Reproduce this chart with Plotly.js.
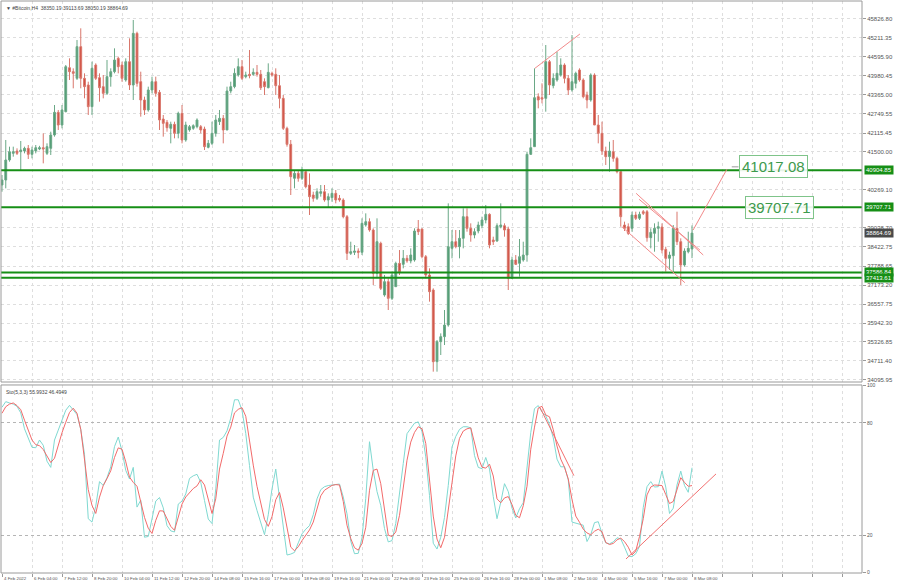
<!DOCTYPE html>
<html><head><meta charset="utf-8">
<script src="https://cdn.plot.ly/plotly-3.0.1.min.js"></script>
<style>html,body{margin:0;padding:0;background:#fff}#chart{width:900px;height:585px}</style>
</head><body><div id="chart"></div>
<script>
// ---- data (H4 bars) ----
const openP = [
40427,40590,41240,41456,41532,41510,41532,41619,41424,41532,
41597,41640,41456,41619,42052,42789,42377,42810,44240,44110,
43894,44923,43894,43677,42973,44327,43915,43623,43406,43948,
44110,44544,44327,43840,44435,43677,45356,43785,43190,42865,
43515,43785,43439,42572,42464,42269,42399,42106,42756,41890,
42215,42269,42323,42323,42247,41651,41781,42106,42485,42594,
42215,43482,43623,44002,44273,43948,44024,44024,44089,44024,
43785,43590,44056,44024,43655,43244,42269,41749,40644,40806,
40644,40860,40427,40102,39994,40156,40210,39940,40015,40156,
39994,39940,39398,38206,38239,38282,38239,39127,39236,38964,
37556,38531,36852,37286,36744,37123,37881,37849,38044,37960,
37990,38997,38997,38098,37502,37015,34685,35336,35498,35877,
38369,38585,38423,38694,39398,39019,38802,38932,39105,39290,
39474,38640,38607,39073,39105,38997,37394,37990,37881,37990,
38152,41424,41673,43298,43265,43244,44435,43655,43840,44002,
44327,43894,43515,43731,44165,43840,43352,43190,44002,42377,
42106,41532,41348,41510,41294,40860,39127,39073,39019,39452,
39344,39560,39560,38715,38856,39019,39062,38336,38044,38130,
39019,38585,37827,38260,38350.19];
const highP = [
40752,41890,41673,41673,41619,41857,41673,41727,41673,41727,
41700,42106,41781,42160,43027,42865,43027,44327,44544,44219,
45139,45519,44056,43785,44435,44381,44056,44002,44490,44219,
44869,44598,44435,44544,45194,45790,45410,44110,43298,43623,
43948,43948,43515,42702,42540,42485,42485,42810,43027,42485,
42377,42400,42594,42377,42323,41890,42485,42702,42865,42702,
43623,43785,44219,44544,44490,44110,44815,44219,44327,44165,
43894,44381,44110,44219,44002,43352,42323,41890,40915,40915,
41023,40915,40806,40210,40319,40427,40427,40156,40319,40265,
40102,39994,39452,38585,38477,38369,39344,39506,39344,39019,
39344,38585,37502,37394,37611,37936,38314,38314,38150,38369,
39019,39290,39019,38152,37719,37069,35390,35606,36365,39831,
38964,38964,38964,39669,39669,39181,39019,39236,39398,39777,
39506,38748,39181,39831,39181,39073,38098,38152,38672,38585,
41510,41944,44219,43406,43731,44977,44490,44056,44760,44544,
44381,44002,45302,44110,44219,43894,43460,44056,44056,42702,
42485,41673,41835,41890,41348,40915,39236,39181,39560,39560,
39560,39615,39615,39019,39181,39236,39181,38423,38260,39127,
39560,38694,38369,38910,39113.69];
const lowP = [
40210,40319,41185,41348,41402,40915,41456,41272,41294,41456,
41560,41131,41402,41402,41998,42215,42269,42790,43840,43569,
43840,43569,43244,42702,42702,43840,43135,43244,43352,43623,
44056,44056,43785,43785,43515,43190,43623,42648,42702,42810,
43406,43298,42215,41998,42160,41781,41944,41944,41781,41835,
42160,42220,42269,42106,41565,41619,41727,41998,42377,41781,
42215,43406,43569,43948,43840,43894,43894,43980,43948,43515,
43352,43569,43948,43352,42919,42215,41673,40102,40319,40535,
40590,40319,39452,39885,39940,40048,39885,39690,39885,39831,
39885,39344,37990,38152,38152,38044,38152,39073,38910,37177,
37394,37015,36798,36365,36690,37123,37502,37719,37900,37881,
37936,38802,38044,37394,36636,34361,34361,34902,35227,35823,
38044,38369,38044,38369,38910,38585,38694,38856,39019,39181,
38369,38477,38585,39019,38748,37015,37394,37827,37448,37936,
37936,41402,41673,42919,43081,42810,43352,43569,43785,43948,
43731,43352,43460,43569,43785,43244,42919,43135,42377,41781,
41402,41077,40860,41185,40806,39073,38932,38802,38910,39290,
39290,39452,38585,38369,38260,38585,38206,37611,37665,37611,
38477,37177,37773,38206,38050.19];
const closeP = [
40590,41240,41510,41510,41456,41565,41619,41424,41565,41640,
41640,41597,41673,42052,42789,42377,42865,44273,44110,44056,
44923,43894,43623,42973,44219,43894,43590,43406,43948,44110,
44490,44273,43894,44435,43677,45356,43731,43190,42865,43515,
43785,43406,42540,42431,42290,42399,42106,42756,41890,42377,
42323,42355,42540,42215,41673,41781,42106,42540,42594,42215,
43482,43623,44056,44273,43894,44002,43980,44089,44024,43590,
43623,44089,44002,43655,43244,42269,41749,40698,40806,40644,
40915,40373,40048,39994,40210,40210,39940,40048,40156,39940,
39940,39398,38206,38260,38282,38239,39181,39236,38964,37556,
38585,37069,37286,36744,37502,37881,37611,38044,37960,38152,
38932,38910,38098,37502,36960,34685,35336,35498,35877,38423,
38585,38423,38694,39398,39019,38802,38910,39127,39290,39474,
38477,38585,39105,39127,38964,37394,37990,37849,38098,38152,
41424,41640,43265,43190,43222,44435,43677,43894,44056,44327,
43894,43515,43785,44056,43840,43298,43190,44002,42377,42106,
41532,41348,41532,41294,40860,39398,39019,38856,39452,39344,
39474,39506,38715,38889,39019,39073,38314,38044,38152,39019,
38585,37827,38282,38369,38864.69];
const stochK = [
88.3,91.3,90.6,90.0,88.8,85.3,76.8,71.9,66.9,66.7,
70.8,68.0,59.5,56.2,70.8,76.1,81.8,86.7,89.3,87.0,
84.4,76.5,63.2,28.8,27.0,35.5,48.6,46.5,50.7,56.5,
67.3,72.4,65.0,54.6,50.0,56.2,35.0,38.7,18.9,19.3,
27.9,38.2,40.1,34.6,25.1,22.3,21.7,36.6,38.2,42.0,
50.3,51.7,52.5,48.2,38.5,28.6,26.2,44.7,70.8,72.2,
75.7,82.5,92.3,92.3,86.7,74.3,57.2,40.3,33.2,26.2,
20.3,30.9,44.7,55.3,39.6,22.1,9.4,9.9,10.8,15.9,
20.7,23.2,25.1,30.9,39.4,44.3,45.9,46.5,46.8,47.2,
47.3,40.4,31.4,16.8,10.1,10.3,18.6,39.6,69.9,54.7,
43.3,35.9,23.5,16.4,17.1,26.3,41.2,58.3,74.2,77.0,
79.8,80.5,75.2,61.8,41.2,15.7,12.6,18.9,29.5,46.5,
67.1,72.7,76.5,77.9,77.9,77.3,62.5,56.2,55.5,61.5,
55.3,40.6,28.8,37.6,47.5,43.3,34.4,29.2,34.1,37.3,
56.2,74.7,87.6,89.2,85.8,83.7,79.1,72.0,60.6,56.5,
56.5,49.6,27.0,26.5,26.0,25.3,16.6,20.3,26.7,27.2,
20.9,15.9,15.4,16.4,18.6,18.0,13.6,8.9,8.5,10.1,
14.0,34.8,45.9,48.6,45.7,45.9,54.2,45.7,31.6,34.4,
46.8,54.2,46.5,42.9,55.9932];
const stochD = [
85.1,88.6,90.0,90.6,89.2,87.0,81.4,75.6,70.8,68.3,
67.8,65.7,62.0,58.8,61.1,68.2,74.7,80.3,85.5,87.8,
85.1,76.5,61.3,44.3,35.9,31.6,40.3,46.5,50.2,54.4,
61.5,66.6,65.9,59.2,51.0,48.2,46.1,37.6,29.5,23.7,
20.9,27.9,33.0,32.9,29.0,24.7,22.6,30.4,36.6,40.4,
42.6,44.9,46.3,49.6,46.8,39.2,31.6,39.4,55.3,63.7,
72.9,77.7,85.3,87.2,88.1,83.5,69.4,57.4,46.1,37.3,
28.4,24.7,29.9,38.9,42.8,34.6,23.5,13.6,11.7,13.8,
17.1,20.0,22.8,27.0,33.6,41.0,44.0,45.4,46.6,47.0,
46.8,38.0,25.3,18.2,13.3,12.0,15.6,24.2,44.0,54.6,
55.3,47.5,32.7,20.0,19.3,21.7,30.6,44.7,60.0,69.7,
74.9,77.9,76.8,69.0,50.0,30.2,17.9,13.3,18.9,32.3,
48.0,62.3,71.7,75.6,76.8,77.3,69.6,61.3,56.3,55.8,
57.9,51.6,39.4,37.3,39.9,40.6,36.4,30.6,29.3,35.7,
46.1,65.9,77.7,87.9,88.8,84.2,83.2,76.3,67.6,60.6,
56.3,50.0,39.0,30.2,26.9,23.2,21.2,20.2,22.1,23.2,
21.8,16.1,15.0,15.6,17.5,18.4,16.6,13.6,9.4,11.5,
19.3,28.8,41.5,45.7,46.8,46.5,46.5,41.7,36.9,38.0,
44.3,50.7,48.2,46.1,46.4949];
const timeLabels = ["4 Feb 2022","6 Feb 04:00","7 Feb 12:00","8 Feb 20:00","10 Feb 04:00","11 Feb 12:00",
"12 Feb 20:00","14 Feb 08:00","15 Feb 16:00","17 Feb 00:00","18 Feb 08:00","19 Feb 16:00","21 Feb 00:00",
"22 Feb 08:00","23 Feb 16:00","25 Feb 00:00","26 Feb 16:00","28 Feb 00:00","1 Mar 08:00","2 Mar 16:00",
"4 Mar 00:00","5 Mar 16:00","7 Mar 00:00","8 Mar 08:00"];
const priceTicks = [45826.80,45211.35,44595.90,43980.45,43365.00,42749.55,42115.45,41500.00,40269.10,
39038.70,38422.75,37788.65,37173.20,36557.75,35942.30,35326.85,34711.40,34095.95];
const levels = [40904.85,39707.71,37586.84,37413.61];
const lastPrice = 38864.69;
const targets = [{text:"41017.08", value:41017.08, bar:196.6},{text:"39707.71", value:39707.71, bar:198.2}];
// drawn trend lines: [bar0, value0, bar1, value1]
const priceTrendLines = [[142.1,44220,154.1,45334],[169.1,40157,187.0,38152],[169.9,39962,186.1,38315],
  [165.3,39072,182.1,37252],[184.3,38965,193.3,40937]];
const stochTrendLines = [[143.5,88.0,152.5,51.8],[166.4,7.3,190.4,52.7]];

const bars = closeP.map((_, i) => i);
const gridBars = []; for (let b = 0; b <= 224; b += 8) gridBars.push(b);

const FONT = 'Liberation Sans, Arial, sans-serif';
const traces = [
  {type:'candlestick', x:bars, open:openP, high:highP, low:lowP, close:closeP, xaxis:'x', yaxis:'y',
   increasing:{line:{color:'#6aa886', width:1}, fillcolor:'#4e9b72'},
   decreasing:{line:{color:'#d9776c', width:1}, fillcolor:'#cf4b3d'},
   whiskerwidth:0, hoverinfo:'skip'},
  {type:'scatter', mode:'lines', x:bars, y:stochK, xaxis:'x', yaxis:'y2', line:{color:'#7fd9d1', width:1}, hoverinfo:'skip'},
  {type:'scatter', mode:'lines', x:bars, y:stochD, xaxis:'x', yaxis:'y2', line:{color:'#f26a6a', width:1}, hoverinfo:'skip'}
];

const MAIN_BOTTOM = 0.3339, STO_TOP = 0.3287;
const shapes = [];
levels.forEach(v => shapes.push({type:'line', xref:'paper', yref:'y', x0:0, x1:1, y0:v, y1:v, line:{color:'#168f16', width:2}}));
priceTrendLines.forEach(t => shapes.push({type:'line', xref:'x', yref:'y', x0:t[0], y0:t[1], x1:t[2], y1:t[3], line:{color:'#f28a8a', width:1}}));
stochTrendLines.forEach(t => shapes.push({type:'line', xref:'x', yref:'y2', x0:t[0], y0:t[1], x1:t[2], y1:t[3], line:{color:'#f27070', width:1}}));
shapes.push({type:'line', xref:'x', yref:'y', x0:194.6, x1:196.4, y0:41017.08, y1:41017.08, line:{color:'#999', width:1}});
shapes.push({type:'rect', xref:'paper', yref:'paper', x0:0, x1:1, y0:MAIN_BOTTOM, y1:1, line:{color:'#9a9a9a', width:1}});
shapes.push({type:'rect', xref:'paper', yref:'paper', x0:0, x1:1, y0:0, y1:STO_TOP, line:{color:'#9a9a9a', width:1}});

const annotations = [];
annotations.push({xref:'paper', yref:'paper', x:0, y:1, xanchor:'left', yanchor:'top', xshift:3, yshift:-2, showarrow:false,
  text:'\u25BC #Bitcoin,H4  38350.19 39113.69 38050.19 38864.69', font:{family:FONT, size:5, color:'#444'}});
annotations.push({xref:'paper', yref:'paper', x:0, y:STO_TOP, xanchor:'left', yanchor:'top', xshift:3, yshift:-2, showarrow:false,
  text:'Sto(5,3,3) 55.9932 46.4949', font:{family:FONT, size:5, color:'#444'}});
levels.forEach(v => annotations.push({xref:'paper', yref:'y', x:1, y:v, xanchor:'left', yanchor:'middle', xshift:2, showarrow:false,
  text:v.toFixed(2), bgcolor:'#168f16', borderpad:1, font:{family:FONT, size:6, color:'#fff'}}));
annotations.push({xref:'paper', yref:'y', x:1, y:lastPrice, xanchor:'left', yanchor:'middle', xshift:2, showarrow:false,
  text:lastPrice.toFixed(2), bgcolor:'#4a4a4a', borderpad:1, font:{family:FONT, size:6, color:'#fff'}});
targets.forEach(t => annotations.push({xref:'x', yref:'y', x:t.bar, y:t.value, xanchor:'left', yanchor:'middle', showarrow:false,
  text:t.text, bgcolor:'rgba(255,255,255,0.9)', bordercolor:'#7fc48a', borderwidth:1, borderpad:2,
  font:{family:FONT, size:15, color:'#3d9a4d'}}));
timeLabels.forEach((t, k) => annotations.push({xref:'x', yref:'paper', x:k*8, y:0, xanchor:'left', yanchor:'top', yshift:-1, showarrow:false,
  text:t, font:{family:FONT, size:4.4, color:'#555'}}));

const layout = {
  width:900, height:585, margin:{l:1, r:38, t:1, b:12},
  paper_bgcolor:'#fff', plot_bgcolor:'#fff', showlegend:false, hovermode:false,
  font:{family:FONT, size:6, color:'#555'},
  xaxis:{range:[-0.267, 229.33], anchor:'y2', tickvals:gridBars, showticklabels:false, ticks:'outside', ticklen:3,
    tickcolor:'#999', showgrid:true, gridcolor:'#dedede', griddash:'dot', zeroline:false, showline:false,
    rangeslider:{visible:false}, fixedrange:true},
  yaxis:{domain:[MAIN_BOTTOM, 1], range:[34025, 46407], side:'right', anchor:'x', tickvals:priceTicks, tickformat:'.2f',
    tickfont:{family:FONT, size:6, color:'#555'}, ticks:'outside', ticklen:3, tickcolor:'#999',
    showgrid:true, gridcolor:'#dedede', griddash:'dot', zeroline:false, fixedrange:true},
  yaxis2:{domain:[0, STO_TOP], range:[-0.2, 100.2], side:'right', anchor:'x', tickvals:[0,20,80,100], ticktext:['0','20','80','100'],
    tickfont:{family:FONT, size:5, color:'#555'}, ticks:'outside', ticklen:3, tickcolor:'#999',
    showgrid:true, gridcolor:'#b5b5b5', griddash:'dot', zeroline:false, fixedrange:true},
  shapes, annotations
};
Plotly.newPlot('chart', traces, layout, {staticPlot:true, displayModeBar:false});
</script>
</body></html>
